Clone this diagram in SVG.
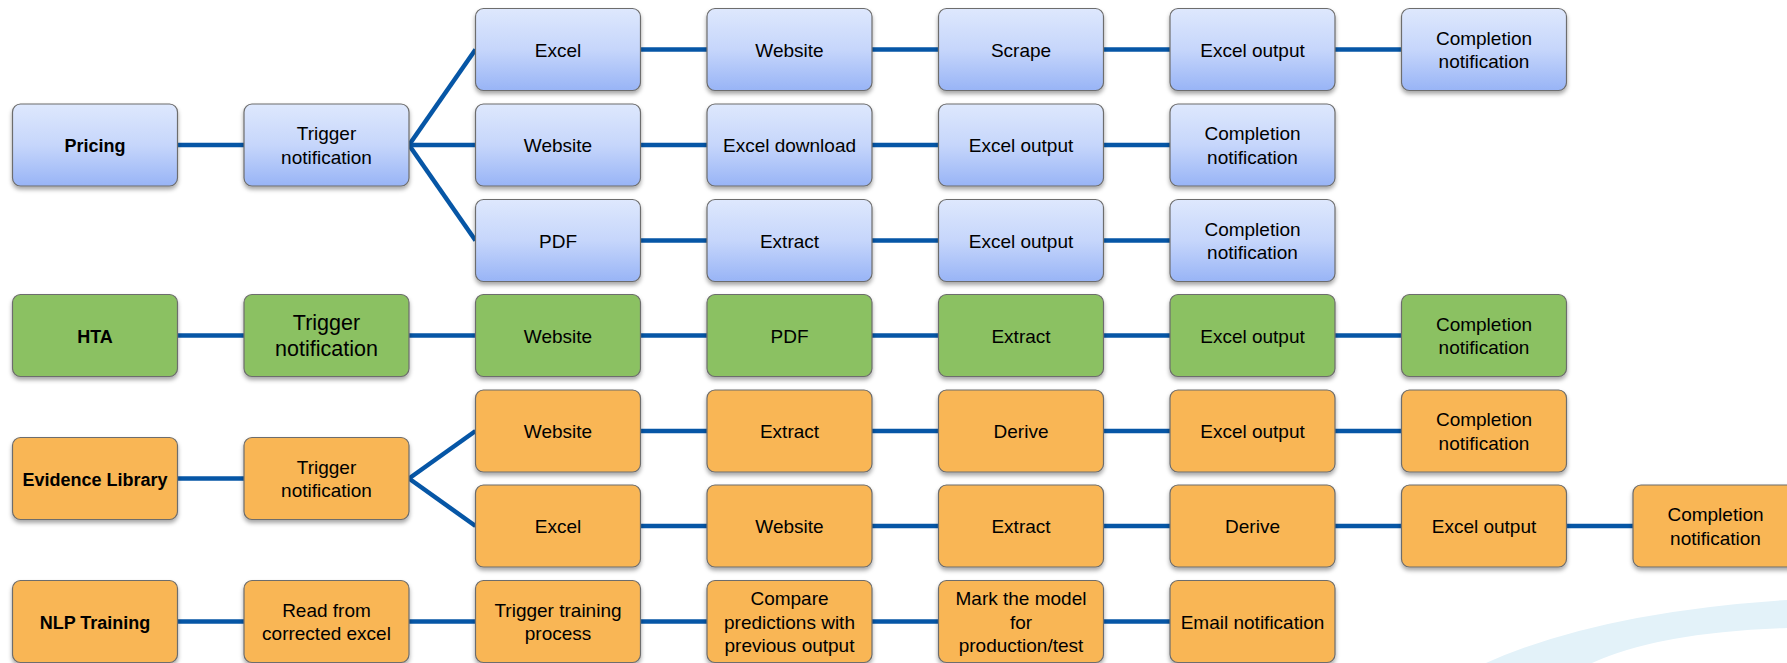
<svg xmlns="http://www.w3.org/2000/svg" width="1787" height="663" viewBox="0 0 1787 663">
<defs>
<linearGradient id="gBlue" x1="0" y1="0" x2="0" y2="1">
<stop offset="0" stop-color="#dee8fd"/>
<stop offset="0.5" stop-color="#c6d6fb"/>
<stop offset="1" stop-color="#98b4f6"/>
</linearGradient>
<filter id="sh" x="-10%" y="-10%" width="120%" height="130%">
<feDropShadow dx="0" dy="3" stdDeviation="2" flood-color="#000" flood-opacity="0.35"/>
</filter>
</defs>
<style>
.box{stroke:#6d6d6d;stroke-width:1.2;filter:url(#sh)}
.blue{fill:url(#gBlue)}
.green{fill:#8bc162}
.orange{fill:#f9b655}
text{font-family:"Liberation Sans",Arial,sans-serif;font-size:19px;fill:#000;text-anchor:middle}
.b{font-weight:bold;font-size:18px}
.big{font-size:21.5px}
#connectors line{stroke:#0656a6;stroke-width:4.5;stroke-linecap:butt}
</style>
<rect width="1787" height="663" fill="#ffffff"/>
<path d="M1486,663 Q1600,612 1787,600 L1787,628 Q1660,632 1592,663 Z" fill="#e3f2f9"/>
<g id="connectors">
<!-- Pricing -->
<line x1="177" y1="145" x2="244" y2="145"/>
<line x1="409" y1="145" x2="475.5" y2="49.5"/>
<line x1="409" y1="145" x2="475.5" y2="145"/>
<line x1="409" y1="145" x2="475.5" y2="240.5"/>
<line x1="640" y1="49.5" x2="1402" y2="49.5"/>
<line x1="640" y1="145" x2="1170.5" y2="145"/>
<line x1="640" y1="240.5" x2="1170.5" y2="240.5"/>
<!-- HTA -->
<line x1="177" y1="335.5" x2="1402" y2="335.5"/>
<!-- Evidence Library -->
<line x1="177" y1="478.5" x2="244" y2="478.5"/>
<line x1="409" y1="478.5" x2="475.5" y2="431"/>
<line x1="409" y1="478.5" x2="475.5" y2="526"/>
<line x1="640" y1="431" x2="1402" y2="431"/>
<line x1="640" y1="526" x2="1633" y2="526"/>
<!-- NLP -->
<line x1="177" y1="621.5" x2="1170.5" y2="621.5"/>
</g>

<g id="pricing"><rect class="box blue" x="12.5" y="104" width="165" height="82" rx="8"/><text class="b" x="95" y="152">Pricing</text></g>
<g id="pricing-trigger"><rect class="box blue" x="244" y="104" width="165" height="82" rx="8"/><text x="326.5" y="140.3">Trigger</text><text x="326.5" y="163.8">notification</text></g>
<g id="p1-excel"><rect class="box blue" x="475.5" y="8.5" width="165" height="82" rx="8"/><text x="558" y="56.5">Excel</text></g>
<g id="p1-website"><rect class="box blue" x="707" y="8.5" width="165" height="82" rx="8"/><text x="789.5" y="56.5">Website</text></g>
<g id="p1-scrape"><rect class="box blue" x="938.5" y="8.5" width="165" height="82" rx="8"/><text x="1021" y="56.5">Scrape</text></g>
<g id="p1-excel-output"><rect class="box blue" x="1170" y="8.5" width="165" height="82" rx="8"/><text x="1252.5" y="56.5">Excel output</text></g>
<g id="p1-completion"><rect class="box blue" x="1401.5" y="8.5" width="165" height="82" rx="8"/><text x="1484" y="44.8">Completion</text><text x="1484" y="68.3">notification</text></g>

<g id="p2-website"><rect class="box blue" x="475.5" y="104" width="165" height="82" rx="8"/><text x="558" y="152">Website</text></g>
<g id="p2-excel-download"><rect class="box blue" x="707" y="104" width="165" height="82" rx="8"/><text x="789.5" y="152">Excel download</text></g>
<g id="p2-excel-output"><rect class="box blue" x="938.5" y="104" width="165" height="82" rx="8"/><text x="1021" y="152">Excel output</text></g>
<g id="p2-completion"><rect class="box blue" x="1170" y="104" width="165" height="82" rx="8"/><text x="1252.5" y="140.3">Completion</text><text x="1252.5" y="163.8">notification</text></g>

<g id="p3-pdf"><rect class="box blue" x="475.5" y="199.5" width="165" height="82" rx="8"/><text x="558" y="247.5">PDF</text></g>
<g id="p3-extract"><rect class="box blue" x="707" y="199.5" width="165" height="82" rx="8"/><text x="789.5" y="247.5">Extract</text></g>
<g id="p3-excel-output"><rect class="box blue" x="938.5" y="199.5" width="165" height="82" rx="8"/><text x="1021" y="247.5">Excel output</text></g>
<g id="p3-completion"><rect class="box blue" x="1170" y="199.5" width="165" height="82" rx="8"/><text x="1252.5" y="235.8">Completion</text><text x="1252.5" y="259.3">notification</text></g>

<g id="hta"><rect class="box green" x="12.5" y="294.5" width="165" height="82" rx="8"/><text class="b" x="95" y="342.5">HTA</text></g>
<g id="hta-trigger"><rect class="box green" x="244" y="294.5" width="165" height="82" rx="8"/><text class="big" x="326.5" y="329.5">Trigger</text><text class="big" x="326.5" y="355.5">notification</text></g>
<g id="hta-website"><rect class="box green" x="475.5" y="294.5" width="165" height="82" rx="8"/><text x="558" y="342.5">Website</text></g>
<g id="hta-pdf"><rect class="box green" x="707" y="294.5" width="165" height="82" rx="8"/><text x="789.5" y="342.5">PDF</text></g>
<g id="hta-extract"><rect class="box green" x="938.5" y="294.5" width="165" height="82" rx="8"/><text x="1021" y="342.5">Extract</text></g>
<g id="hta-excel-output"><rect class="box green" x="1170" y="294.5" width="165" height="82" rx="8"/><text x="1252.5" y="342.5">Excel output</text></g>
<g id="hta-completion"><rect class="box green" x="1401.5" y="294.5" width="165" height="82" rx="8"/><text x="1484" y="330.8">Completion</text><text x="1484" y="354.3">notification</text></g>

<g id="evidence-library"><rect class="box orange" x="12.5" y="437.5" width="165" height="82" rx="8"/><text class="b" x="95" y="485.5">Evidence Library</text></g>
<g id="el-trigger"><rect class="box orange" x="244" y="437.5" width="165" height="82" rx="8"/><text x="326.5" y="473.8">Trigger</text><text x="326.5" y="497.3">notification</text></g>
<g id="el1-website"><rect class="box orange" x="475.5" y="390" width="165" height="82" rx="8"/><text x="558" y="438">Website</text></g>
<g id="el1-extract"><rect class="box orange" x="707" y="390" width="165" height="82" rx="8"/><text x="789.5" y="438">Extract</text></g>
<g id="el1-derive"><rect class="box orange" x="938.5" y="390" width="165" height="82" rx="8"/><text x="1021" y="438">Derive</text></g>
<g id="el1-excel-output"><rect class="box orange" x="1170" y="390" width="165" height="82" rx="8"/><text x="1252.5" y="438">Excel output</text></g>
<g id="el1-completion"><rect class="box orange" x="1401.5" y="390" width="165" height="82" rx="8"/><text x="1484" y="426.3">Completion</text><text x="1484" y="449.8">notification</text></g>

<g id="el2-excel"><rect class="box orange" x="475.5" y="485" width="165" height="82" rx="8"/><text x="558" y="533">Excel</text></g>
<g id="el2-website"><rect class="box orange" x="707" y="485" width="165" height="82" rx="8"/><text x="789.5" y="533">Website</text></g>
<g id="el2-extract"><rect class="box orange" x="938.5" y="485" width="165" height="82" rx="8"/><text x="1021" y="533">Extract</text></g>
<g id="el2-derive"><rect class="box orange" x="1170" y="485" width="165" height="82" rx="8"/><text x="1252.5" y="533">Derive</text></g>
<g id="el2-excel-output"><rect class="box orange" x="1401.5" y="485" width="165" height="82" rx="8"/><text x="1484" y="533">Excel output</text></g>
<g id="el2-completion"><rect class="box orange" x="1633" y="485" width="165" height="82" rx="8"/><text x="1715.5" y="521.3">Completion</text><text x="1715.5" y="544.8">notification</text></g>

<g id="nlp-training"><rect class="box orange" x="12.5" y="580.5" width="165" height="82" rx="8"/><text class="b" x="95" y="628.5">NLP Training</text></g>
<g id="nlp-read"><rect class="box orange" x="244" y="580.5" width="165" height="82" rx="8"/><text x="326.5" y="616.8">Read from</text><text x="326.5" y="640.3">corrected excel</text></g>
<g id="nlp-trigger"><rect class="box orange" x="475.5" y="580.5" width="165" height="82" rx="8"/><text x="558" y="616.8">Trigger training</text><text x="558" y="640.3">process</text></g>
<g id="nlp-compare"><rect class="box orange" x="707" y="580.5" width="165" height="82" rx="8"/><text x="789.5" y="605">Compare</text><text x="789.5" y="628.5">predictions with</text><text x="789.5" y="652">previous output</text></g>
<g id="nlp-mark"><rect class="box orange" x="938.5" y="580.5" width="165" height="82" rx="8"/><text x="1021" y="605">Mark the model</text><text x="1021" y="628.5">for</text><text x="1021" y="652">production/test</text></g>
<g id="nlp-email"><rect class="box orange" x="1170" y="580.5" width="165" height="82" rx="8"/><text x="1252.5" y="628.5">Email notification</text></g>
</svg>
